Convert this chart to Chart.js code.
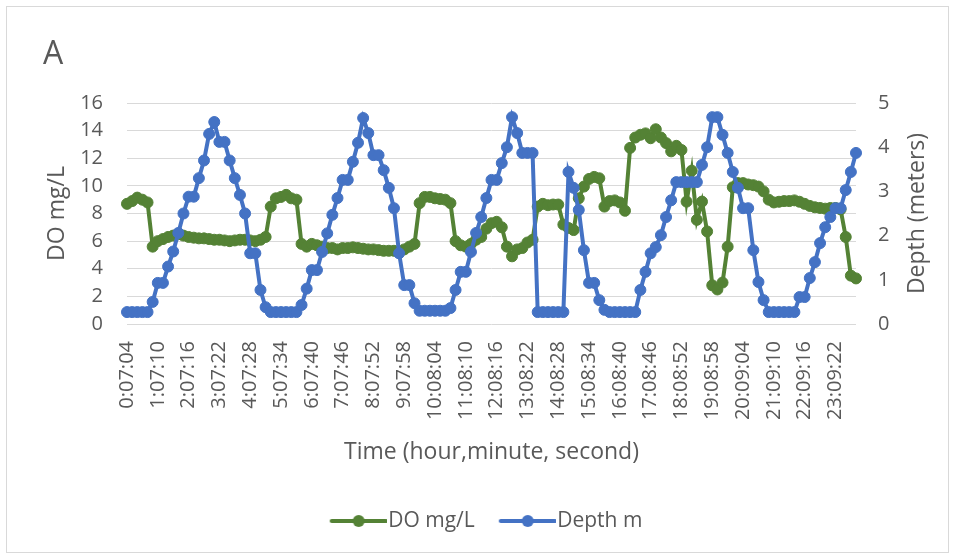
<!DOCTYPE html>
<html>
<head>
<meta charset="utf-8">
<script src="https://cdn.jsdelivr.net/npm/chart.js@4.4.1/dist/chart.umd.min.js"></script>
<style>
  html, body { margin: 0; padding: 0; background: #fff; }
  #wrap { position: relative; width: 956px; height: 559px; }
  #frame { position: absolute; left: 6px; top: 6px; width: 941px; height: 545px; border: 1px solid #d9d9d9; pointer-events: none; }
</style>
</head>
<body>
<div id="wrap">
  <canvas id="chart" width="956" height="559"></canvas>
  <div id="frame"></div>
</div>
<script>
// Time axis: one reading every 10 min 01 s, starting 0:07:04
const startSeconds = 7 * 60 + 4;
const stepSeconds = 601;
const pointCount = 143;
const labelEvery = 6;

// DO mg/L (left axis)
const doValues = [
  8.7, 8.9, 9.15, 9.0, 8.8, 5.6, 6.0, 6.15, 6.3, 6.4,
  6.5, 6.4, 6.3, 6.25, 6.2, 6.2, 6.15, 6.1, 6.1, 6.05,
  6.0, 6.05, 6.1, 6.1, 6.05, 6.0, 6.1, 6.3, 8.5, 9.1,
  9.2, 9.35, 9.1, 9.0, 5.8, 5.6, 5.8, 5.7, 5.6, 5.5,
  5.5, 5.4, 5.5, 5.5, 5.55, 5.5, 5.45, 5.4, 5.4, 5.35,
  5.3, 5.3, 5.3, 5.25, 5.4, 5.6, 5.8, 8.75, 9.2, 9.2,
  9.1, 9.05, 9.0, 8.75, 6.0, 5.7, 5.6, 5.8, 6.1, 6.3,
  6.9, 7.3, 7.4, 7.0, 5.6, 4.9, 5.4, 5.5, 5.9, 6.1,
  8.5, 8.7, 8.6, 8.65, 8.65, 7.2, 6.95, 6.8, 9.1, 9.95,
  10.5, 10.65, 10.55, 8.5, 8.9, 8.95, 8.8, 8.2, 12.75, 13.5,
  13.7, 13.8, 13.45, 14.1, 13.5, 13.1, 12.5, 12.9, 12.6, 8.86,
  11.1, 7.54, 8.86, 6.7, 2.8, 2.5, 3.0, 5.6, 9.9, 10.2,
  10.2, 10.1, 10.05, 9.95, 9.6, 9.0, 8.8, 8.85, 8.9, 8.9,
  8.95, 8.85, 8.7, 8.55, 8.45, 8.4, 8.35, 8.4, 8.4, 8.3,
  6.3, 3.5, 3.3
];

// Depth m (right axis)
const depthValues = [
  0.27, 0.27, 0.27, 0.27, 0.27, 0.5, 0.93, 0.93, 1.3, 1.64,
  2.06, 2.5, 2.88, 2.88, 3.3, 3.7, 4.3, 4.57, 4.12, 4.12,
  3.7, 3.3, 2.92, 2.5, 1.6, 1.6, 0.77, 0.38, 0.27, 0.27,
  0.27, 0.27, 0.27, 0.27, 0.43, 0.8, 1.22, 1.22, 1.63, 2.05,
  2.47, 2.85, 3.26, 3.26, 3.67, 4.1, 4.66, 4.32, 3.82, 3.82,
  3.48, 3.08, 2.62, 1.6, 0.88, 0.88, 0.47, 0.3, 0.3, 0.3,
  0.3, 0.3, 0.3, 0.36, 0.77, 1.18, 1.18, 1.63, 2.06, 2.42,
  2.85, 3.26, 3.26, 3.64, 4.0, 4.68, 4.32, 3.87, 3.87, 3.87,
  0.27, 0.27, 0.27, 0.27, 0.27, 0.27, 3.44, 3.08, 2.58, 1.67,
  0.93, 0.93, 0.54, 0.32, 0.27, 0.27, 0.27, 0.27, 0.27, 0.27,
  0.77, 1.18, 1.6, 1.74, 2.01, 2.42, 2.8, 3.21, 3.21, 3.21,
  3.21, 3.21, 3.6, 4.0, 4.68, 4.68, 4.28, 3.87, 3.44, 3.08,
  2.62, 2.62, 1.67, 0.95, 0.54, 0.27, 0.27, 0.27, 0.27, 0.27,
  0.27, 0.61, 0.61, 1.04, 1.4, 1.83, 2.19, 2.42, 2.62, 2.62,
  3.03, 3.44, 3.87
];

const doColor = '#548235';
const depthColor = '#4472C4';
const textColor = '#595959';
const gridColor = '#d9d9d9';
const fontFamily = '"Open Sans", "Noto Sans", sans-serif';

function pad2(n) { return String(n).padStart(2, '0'); }
const timeLabels = [];
for (let i = 0; i < pointCount; i++) {
  const t = startSeconds + i * stepSeconds;
  const h = Math.floor(t / 3600), m = Math.floor(t % 3600 / 60), s = t % 60;
  timeLabels.push(h + ':' + pad2(m) + ':' + pad2(s));
}

// legend symbol: short line with a marker in the middle
function legendSymbol(color) {
  const c = document.createElement('canvas');
  c.width = 80; c.height = 14;
  const g = c.getContext('2d');
  g.strokeStyle = color; g.lineWidth = 4; g.lineCap = 'round';
  g.beginPath(); g.moveTo(25, 7); g.lineTo(79, 7); g.stroke();
  g.fillStyle = color;
  g.beginPath(); g.arc(52, 7, 6, 0, Math.PI * 2); g.fill();
  return c;
}
const symbols = [legendSymbol(doColor), legendSymbol(depthColor)];

const rightTitle = {
  id: 'rightTitle',
  afterDraw(chart) {
    const s = chart.scales.y1;
    const ctx = chart.ctx;
    ctx.save();
    ctx.translate(s.right + 2, (s.top + s.bottom) / 2);
    ctx.rotate(-Math.PI / 2);
    ctx.font = '23px ' + fontFamily;
    ctx.fillStyle = textColor;
    ctx.textAlign = 'center';
    ctx.textBaseline = 'middle';
    ctx.fillText('Depth (meters)', 0, 0);
    ctx.restore();
  }
};

Chart.defaults.font.family = fontFamily;
Chart.defaults.color = textColor;

new Chart(document.getElementById('chart'), {
  type: 'line',
  data: {
    labels: timeLabels,
    datasets: [
      {
        label: 'DO mg/L', data: doValues, yAxisID: 'y',
        borderColor: doColor, backgroundColor: doColor,
        borderWidth: 4, pointRadius: 5.5, pointBorderWidth: 1,
        tension: 0, order: 1
      },
      {
        label: 'Depth m', data: depthValues, yAxisID: 'y1',
        borderColor: depthColor, backgroundColor: depthColor,
        borderWidth: 4, pointRadius: 5.5, pointBorderWidth: 1,
        tension: 0, order: 0
      }
    ]
  },
  options: {
    responsive: false,
    animation: false,
    devicePixelRatio: 1,
    layout: { padding: { left: 43, right: 41, top: 0, bottom: 17.5 } },
    plugins: {
      title: {
        display: true, text: 'A', align: 'start',
        color: textColor, font: { size: 32, weight: 'normal' },
        padding: { top: 36, bottom: 28.6 }
      },
      legend: {
        position: 'bottom',
        labels: {
          usePointStyle: true,
          pointStyleWidth: 62,
          padding: 10,
          color: textColor,
          font: { size: 21 },
          sort: (a, b) => a.datasetIndex - b.datasetIndex,
          generateLabels(chart) {
            const items = Chart.defaults.plugins.legend.labels.generateLabels(chart);
            items.forEach(it => { it.pointStyle = symbols[it.datasetIndex]; });
            return items;
          }
        }
      },
      tooltip: { enabled: false }
    },
    scales: {
      x: {
        grid: { display: false },
        border: { display: false },
        ticks: {
          autoSkip: false, minRotation: 90, maxRotation: 90,
          padding: 9, color: textColor, font: { size: 20 },
          callback: function (v, i) { return i % labelEvery === 0 ? this.getLabelForValue(v) : ''; }
        },
        title: {
          display: true, text: 'Time (hour,minute, second)',
          color: textColor, font: { size: 23 },
          padding: { top: 0, bottom: 34.7 }
        },
        afterFit(scale) { scale.height = 176.5; }
      },
      y: {
        position: 'left', min: 0, max: 16,
        grid: { color: gridColor, lineWidth: 1, drawTicks: false },
        border: { display: false },
        ticks: { stepSize: 2, padding: 24, color: textColor, font: { size: 20 } },
        title: {
          display: true, text: 'DO mg/L',
          color: textColor, font: { size: 23 },
          padding: { top: 1, bottom: 0 }
        },
        afterFit(scale) { scale.width = 84; }
      },
      y1: {
        position: 'right', min: 0, max: 5,
        grid: { display: false, drawTicks: false },
        border: { display: false },
        ticks: { stepSize: 1, padding: 22, color: textColor, font: { size: 20 } },
        afterFit(scale) { scale.width = 59; }
      }
    }
  },
  plugins: [rightTitle]
});
</script>
</body>
</html>
